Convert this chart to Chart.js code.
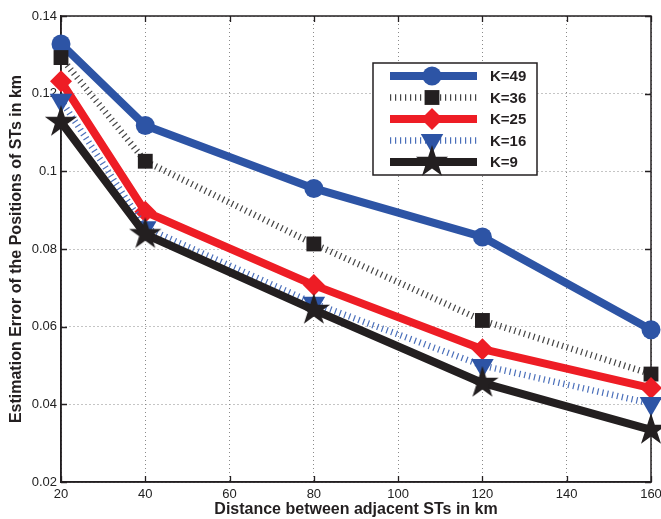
<!DOCTYPE html>
<html>
<head>
<meta charset="utf-8">
<script src="https://cdn.jsdelivr.net/npm/chart.js@4/dist/chart.umd.min.js"></script>
<style>
html,body{margin:0;padding:0;background:#fff;}
#wrap{width:661px;height:519px;position:relative;overflow:hidden;}
</style>
</head>
<body>
<div id="wrap"><canvas id="c" width="661" height="519"></canvas></div>
<script>
// ---- data ----
const distances = [20, 40, 80, 120, 160];
const seriesLabels = ['K=49', 'K=36', 'K=25', 'K=16', 'K=9'];
const k49 = [0.1328, 0.1118, 0.0956, 0.0831, 0.0592];
const k36 = [0.1293, 0.1026, 0.0813, 0.0616, 0.0478];
const k25 = [0.1232, 0.0896, 0.0707, 0.0542, 0.0442];
const k16 = [0.1183, 0.0855, 0.0660, 0.0500, 0.0402];
const k9  = [0.1127, 0.0838, 0.0643, 0.0455, 0.0334];
const xTicks = [20, 40, 60, 80, 100, 120, 140, 160];
const yTicks = [0.02, 0.04, 0.06, 0.08, 0.10, 0.12, 0.14];
const yTickLabels = ['0.02', '0.04', '0.06', '0.08', '0.1', '0.12', '0.14'];
const xTitle = 'Distance between adjacent STs in km';
const yTitle = 'Estimation Error of the Positions of STs in km';

const FONT = '"Liberation Sans", Arial, Helvetica, sans-serif';
const BLUE = '#2d54a5';
const RED = '#ee1d25';
const BLACK = '#231f20';
const BLUE_LIGHT = '#4a6fba';

// filled pentagram marker
function makeStar(rOuter, color) {
  const s = Math.ceil(rOuter * 2 + 2);
  const cv = document.createElement('canvas');
  cv.width = s; cv.height = s;
  const g = cv.getContext('2d');
  const cx = s / 2, cy = s / 2, rInner = rOuter * 0.382;
  g.beginPath();
  for (let i = 0; i < 10; i++) {
    const r = i % 2 === 0 ? rOuter : rInner;
    const a = -Math.PI / 2 + i * Math.PI / 5;
    const px = cx + r * Math.cos(a), py = cy + r * Math.sin(a);
    if (i === 0) g.moveTo(px, py); else g.lineTo(px, py);
  }
  g.closePath();
  g.fillStyle = color;
  g.fill();
  return cv;
}
const starImg = makeStar(17, BLACK);

function pts(ys) { return distances.map((x, i) => ({x: x, y: ys[i]})); }

const datasets = [
  {label: seriesLabels[0], data: pts(k49), borderColor: BLUE, backgroundColor: BLUE, borderWidth: 8,
   pointStyle: 'circle', pointRadius: 9.5, pointBorderWidth: 0, order: 5},
  {label: seriesLabels[1], data: pts(k36), borderColor: '#444', backgroundColor: BLACK, borderWidth: 6.5,
   borderDash: [1.2, 3.8], borderCapStyle: 'butt', pointStyle: 'rect', pointRadius: 10.5, pointBorderWidth: 0, order: 4},
  {label: seriesLabels[2], data: pts(k25), borderColor: RED, backgroundColor: RED, borderWidth: 8,
   pointStyle: 'rectRot', pointRadius: 11, pointBorderWidth: 0, order: 3},
  {label: seriesLabels[3], data: pts(k16), borderColor: BLUE_LIGHT, backgroundColor: BLUE, borderWidth: 6.5,
   borderDash: [1.2, 3.8], borderCapStyle: 'butt', pointStyle: 'triangle', pointRotation: 180, pointRadius: 13, pointBorderWidth: 0, order: 2},
  {label: seriesLabels[4], data: pts(k9), borderColor: BLACK, backgroundColor: BLACK, borderWidth: 8,
   pointStyle: starImg, pointRadius: 17, pointBorderWidth: 0, order: 1}
];
datasets.forEach(d => { d.tension = 0; d.fill = false; d.clip = false; d.borderJoinStyle = 'round'; d.pointHoverRadius = d.pointRadius; });

// box and inward ticks
const framePlugin = {
  id: 'frame',
  beforeDatasetsDraw(chart) {
    const ctx = chart.ctx, a = chart.chartArea;
    const xs = chart.scales.x, ys = chart.scales.y;
    ctx.save();
    ctx.strokeStyle = BLACK;
    ctx.lineWidth = 1.3;
    ctx.beginPath();
    xTicks.forEach(v => {
      const px = Math.round(xs.getPixelForValue(v)) + 0.5;
      ctx.moveTo(px, a.bottom); ctx.lineTo(px, a.bottom - 6);
      ctx.moveTo(px, a.top); ctx.lineTo(px, a.top + 6);
    });
    yTicks.forEach(v => {
      const py = Math.round(ys.getPixelForValue(v)) + 0.5;
      ctx.moveTo(a.left, py); ctx.lineTo(a.left + 6, py);
      ctx.moveTo(a.right, py); ctx.lineTo(a.right - 6, py);
    });
    ctx.stroke();
    ctx.lineWidth = 1.5;
    ctx.strokeRect(a.left, a.top, a.right - a.left, a.bottom - a.top);
    ctx.restore();
  }
};

// boxed legend inside the plot
const legendPlugin = {
  id: 'boxLegend',
  afterDraw(chart) {
    const ctx = chart.ctx;
    const bx = 373, by = 63, bw = 164, bh = 112;
    ctx.save();
    ctx.fillStyle = '#fff';
    ctx.fillRect(bx, by, bw, bh);
    ctx.strokeStyle = BLACK;
    ctx.lineWidth = 1.5;
    ctx.strokeRect(bx, by, bw, bh);
    const rowH = 21.5;
    chart.data.datasets.forEach((ds, i) => {
      const meta = chart.getDatasetMeta(i);
      const y = by + 13 + i * rowH;
      const x1 = bx + 17, x2 = bx + 104, xm = bx + 59;
      ctx.save();
      ctx.strokeStyle = ds.borderColor;
      ctx.lineWidth = ds.borderWidth;
      ctx.lineCap = 'butt';
      ctx.setLineDash(ds.borderDash || []);
      ctx.beginPath(); ctx.moveTo(x1, y); ctx.lineTo(x2, y); ctx.stroke();
      ctx.restore();
      const opts = meta.data[0].options;
      ctx.save();
      ctx.fillStyle = opts.backgroundColor;
      ctx.strokeStyle = opts.backgroundColor;
      Chart.helpers.drawPoint(ctx, {pointStyle: opts.pointStyle, rotation: opts.rotation, radius: opts.radius, borderWidth: 0}, xm, y);
      ctx.restore();
      ctx.fillStyle = BLACK;
      ctx.font = 'bold 15px ' + FONT;
      ctx.textBaseline = 'middle';
      ctx.textAlign = 'left';
      ctx.fillText(ds.label, bx + 117, y + 1);
    });
    ctx.restore();
  }
};

new Chart(document.getElementById('c'), {
  type: 'line',
  data: {datasets: datasets},
  options: {
    responsive: false,
    animation: false,
    devicePixelRatio: 1,
    layout: {autoPadding: false, padding: {left: 0, right: 10, top: 16, bottom: 0}},
    plugins: {legend: {display: false}, tooltip: {enabled: false}},
    scales: {
      x: {
        type: 'linear', min: 20, max: 160,
        afterBuildTicks: s => { s.ticks = xTicks.map(v => ({value: v})); },
        afterFit: s => { s.height = 37; s.paddingLeft = 0; s.paddingRight = 0; },
        grid: {color: '#8a8a8a', lineWidth: 1, drawTicks: false, tickLength: 0},
        border: {display: true, color: BLACK, width: 1.5, dash: [1, 3]},
        ticks: {color: '#222', font: {family: FONT, size: 13}, padding: 5, maxRotation: 0,
                callback: v => String(v)},
        title: {display: true, text: xTitle, color: BLACK,
                font: {family: FONT, size: 16, weight: 'bold'}, padding: {top: 0, bottom: 0}}
      },
      y: {
        type: 'linear', min: 0.02, max: 0.14,
        afterBuildTicks: s => { s.ticks = yTicks.map(v => ({value: v})); },
        afterFit: s => { s.width = 61; s.paddingTop = 0; s.paddingBottom = 0; },
        grid: {color: '#8a8a8a', lineWidth: 1, drawTicks: false, tickLength: 0},
        border: {display: true, color: BLACK, width: 1.5, dash: [1, 3]},
        ticks: {color: '#222', font: {family: FONT, size: 13}, padding: 4,
                callback: (v, i) => yTickLabels[yTicks.findIndex(t => Math.abs(t - v) < 1e-9)]},
        title: {display: true, text: yTitle, color: BLACK,
                font: {family: FONT, size: 16, weight: 'bold'}, padding: {top: 7, bottom: 0}}
      }
    }
  },
  plugins: [framePlugin, legendPlugin]
});
</script>
</body>
</html>
